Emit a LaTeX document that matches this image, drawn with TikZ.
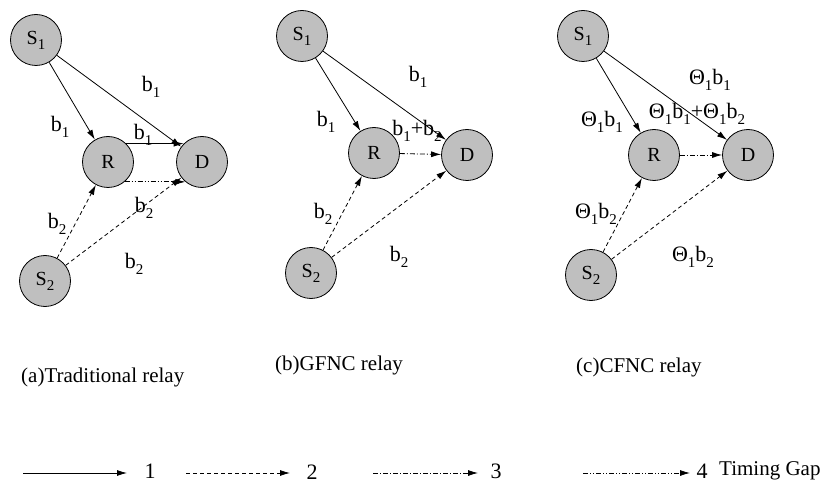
\documentclass[tikz,border=0pt]{standalone}
\usepackage{fontspec}
\setmainfont{Liberation Serif}
\usetikzlibrary{arrows.meta}
\newcommand{\lo}[1]{\raisebox{-0.55ex}{\fontsize{15}{15}\selectfont #1}}

\begin{document}
\begin{tikzpicture}[
    x=1pt, y=-1pt, line join=round,
    >={Latex[length=10pt,width=6pt]},
    stn/.style={circle, draw, fill=black!25, line width=0.8pt,
      minimum size=51pt, inner sep=0pt, font=\fontsize{20}{20}\selectfont},
    lbl/.style={font=\fontsize{22}{22}\selectfont, inner sep=0pt},
    captxt/.style={font=\fontsize{21}{21}\selectfont, anchor=west, inner sep=0pt},
    lk1/.style={->, line width=0.8pt},
    lk2/.style={->, line width=0.8pt, dash pattern=on 4pt off 3pt},
    lk3/.style={->, line width=0.8pt, dash pattern=on 5pt off 2pt on 1pt off 2pt},
    lk4/.style={->, line width=0.8pt,
      dash pattern=on 5pt off 2pt on 1pt off 2pt on 1pt off 2pt}]
  \useasboundingbox (0,0) rectangle (825,489);
  % (a) traditional relay
  \node[stn] (s1a) at (36,40) {S\lo{1}};
  \node[stn] (ra) at (108,162) {R};
  \node[stn] (da) at (202,162) {D};
  \node[stn] (s2a) at (45,281) {S\lo{2}};
  \draw[lk1] (s1a) -- (ra);
  \draw[lk1] (s1a) -- (da);
  \draw[lk1] (ra.45) -- (da.135);
  \draw[lk4] (ra.-50) -- (da.-130);
  \draw[lk2] (s2a) -- (ra);
  \draw[lk2] (s2a) -- (da);
  \node[lbl] (ta1) at (151,87) {b\lo{1}};
  \node[lbl] (ta2) at (60,127) {b\lo{1}};
  \node[lbl] (ta3) at (143,135) {b\lo{1}};
  \node[lbl] (ta4) at (57,224) {b\lo{2}};
  \node[lbl] (ta5) at (144,208) {b\lo{2}};
  \node[lbl] (ta6) at (134,264) {b\lo{2}};
  \node[captxt] (capa) at (21,377) {(a)Traditional relay};
  % (b) GFNC relay
  \node[stn] (s1b) at (302,36) {S\lo{1}};
  \node[stn] (rb) at (374,153) {R};
  \node[stn] (db) at (467,155) {D};
  \node[stn] (s2b) at (311,273) {S\lo{2}};
  \draw[lk1] (s1b) -- (rb);
  \draw[lk1] (s1b) -- (db);
  \draw[lk3] (rb) -- (db);
  \draw[lk2] (s2b) -- (rb);
  \draw[lk2] (s2b) -- (db);
  \node[lbl] (tb1) at (418,77) {b\lo{1}};
  \node[lbl] (tb2) at (326,122) {b\lo{1}};
  \node[lbl] (tb3) at (417,131) {b\lo{1}+b\lo{2}};
  \node[lbl] (tb4) at (323,214) {b\lo{2}};
  \node[lbl] (tb5) at (399,257) {b\lo{2}};
  \node[captxt] (capb) at (275,365) {(b)GFNC relay};
  % (c) CFNC relay
  \node[stn] (s1c) at (583,36) {S\lo{1}};
  \node[stn] (rc) at (654,155) {R};
  \node[stn] (dc) at (748,155) {D};
  \node[stn] (s2c) at (591,275) {S\lo{2}};
  \draw[lk1] (s1c) -- (rc);
  \draw[lk1] (s1c) -- (dc);
  \draw[lk3] (rc) -- (dc);
  \draw[lk2] (s2c) -- (rc);
  \draw[lk2] (s2c) -- (dc);
  \node[lbl] (tc1) at (710,80) {Θ\lo{1}b\lo{1}};
  \node[lbl] (tc2) at (602,122) {Θ\lo{1}b\lo{1}};
  \node[lbl] (tc3) at (697,114) {Θ\lo{1}b\lo{1}+Θ\lo{1}b\lo{2}};
  \node[lbl] (tc4) at (596,214) {Θ\lo{1}b\lo{2}};
  \node[lbl] (tc5) at (693,257) {Θ\lo{1}b\lo{2}};
  \node[captxt] (capc) at (576,367) {(c)CFNC relay};
  % legend
  \coordinate (l1a) at (23,473);  \coordinate (l1b) at (127,473);
  \coordinate (l2a) at (186,473); \coordinate (l2b) at (290,473);
  \coordinate (l3a) at (373,473); \coordinate (l3b) at (478,473);
  \coordinate (l4a) at (583,473); \coordinate (l4b) at (690,473);
  \draw[lk1] (l1a) -- (l1b);
  \draw[lk2] (l2a) -- (l2b);
  \draw[lk3] (l3a) -- (l3b);
  \draw[lk4] (l4a) -- (l4b);
  \node[lbl] (g1) at (150,471) {1};
  \node[lbl] (g2) at (312,472) {2};
  \node[lbl] (g3) at (496,471) {3};
  \node[lbl] (g4) at (702,471) {4};
  \node[captxt] (g5) at (719,471) {Timing Gap};
\end{tikzpicture}
\end{document}
